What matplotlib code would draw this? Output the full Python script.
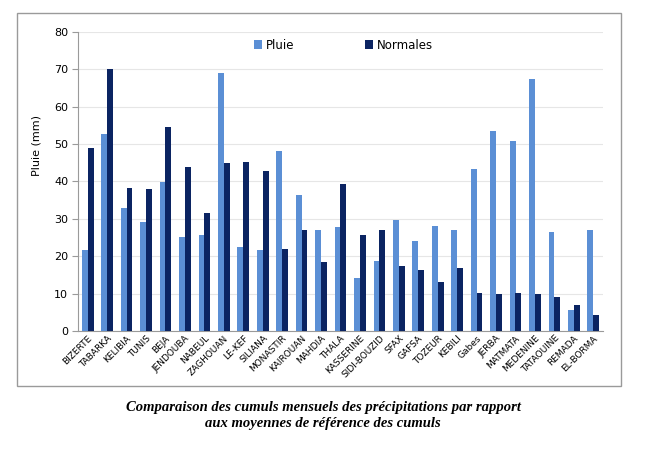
import matplotlib
matplotlib.use("Agg")
import matplotlib.pyplot as plt
import numpy as np

stations = ["BIZERTE", "TABARKA", "KELIBIA", "TUNIS", "BEJA", "JENDOUBA", "NABEUL",
            "ZAGHOUAN", "LE-KEF", "SILIANA", "MONASTIR", "KAIROUAN", "MAHDIA", "THALA",
            "KASSERINE", "SIDI-BOUZID", "SFAX", "GAFSA", "TOZEUR", "KEBILI", "Gabes",
            "JERBA", "MATMATA", "MEDENINE", "TATAOUINE", "REMADA", "EL-BORMA"]
pluie = [21.6, 52.6, 32.8, 29.2, 39.9, 25.2, 25.6, 69.0, 22.5, 21.6, 48.2, 36.5, 27.0, 27.8,
         14.3, 18.8, 29.8, 24.1, 28.1, 27.0, 43.3, 53.4, 50.9, 67.3, 26.6, 5.5, 26.9]
normales = [49.0, 70.0, 38.3, 37.9, 54.7, 43.8, 31.5, 45.0, 45.2, 42.8, 21.9, 27.0, 18.4, 39.3,
            25.8, 27.1, 17.3, 16.4, 13.2, 16.8, 10.1, 9.8, 10.2, 10.0, 9.0, 6.9, 4.4]

c_pluie = "#5B8FD5"
c_norm = "#0B2462"

fig = plt.figure(figsize=(6.46, 4.65), dpi=100)

# chart frame
frame = matplotlib.patches.Rectangle((17 / 646, 1 - 386 / 465), 604 / 646, 373 / 465,
                                     transform=fig.transFigure, fill=False,
                                     edgecolor="#9a9a9a", linewidth=1.0)
fig.patches.append(frame)

ax = fig.add_axes([78 / 646, 1 - 331 / 465, 525 / 646, 299 / 465])

x = np.arange(len(stations))
w = 0.3
ax.bar(x - w / 2, pluie, w, color=c_pluie, label="Pluie", zorder=3)
ax.bar(x + w / 2, normales, w, color=c_norm, label="Normales", zorder=3)

ax.set_xlim(-0.5, len(stations) - 0.5)
ax.set_ylim(0, 80)
ax.set_yticks(range(0, 81, 10))
ax.yaxis.grid(True, color="#e6e6e6", linewidth=0.8, zorder=0)

for s in ["top", "right"]:
    ax.spines[s].set_visible(False)
ax.spines["left"].set_color("#9a9a9a")
ax.spines["bottom"].set_color("#9a9a9a")
ax.tick_params(axis="y", length=4, color="#9a9a9a", labelsize=8, pad=3)
ax.tick_params(axis="x", length=0, labelsize=6.5, pad=2)

ax.set_xticks(x)
ax.set_xticklabels(stations, rotation=45, ha="right", rotation_mode="anchor")

ax.set_ylabel("Pluie (mm)", fontsize=8)
ax.yaxis.set_label_coords(-0.07, 0.62)

ax.legend(loc="upper center", bbox_to_anchor=(0.505, 1.013), ncol=2, frameon=False,
          fontsize=8.5, handlelength=0.7, handleheight=0.7, columnspacing=6,
          handletextpad=0.3)

fig.text(0.5, 1 - 407 / 465, "Comparaison des cumuls mensuels des précipitations par rapport",
         ha="center", va="center", family="Liberation Serif", style="italic",
         weight="bold", fontsize=10.5)
fig.text(0.5, 1 - 423 / 465, "aux moyennes de référence des cumuls",
         ha="center", va="center", family="Liberation Serif", style="italic",
         weight="bold", fontsize=10.5)

fig.savefig("out.png", dpi=100)
